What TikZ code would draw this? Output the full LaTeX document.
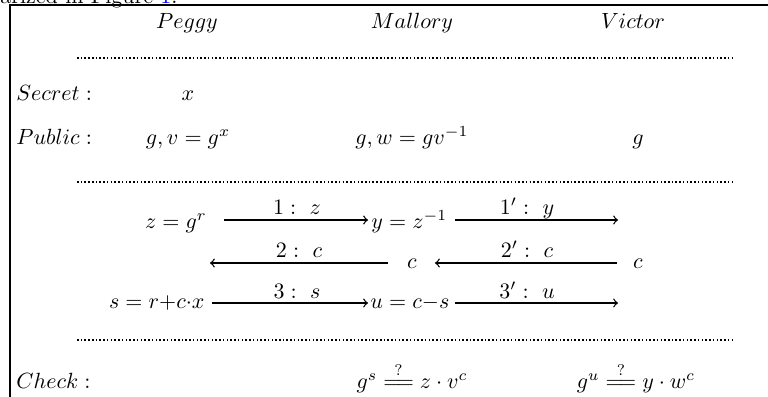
\documentclass[tikz,border=0pt]{standalone}
\usepackage{xcolor}
\begin{document}
\begin{tikzpicture}[x=0.4545pt,y=-0.4545pt,
  lbl/.style={anchor=base,inner sep=0pt},
  lblw/.style={anchor=base west,inner sep=0pt},
  lble/.style={anchor=base east,inner sep=0pt},
  msg/.style={->,line width=0.6pt},
  sep/.style={densely dotted,line width=0.7pt},
  frame/.style={line width=1pt}]
\useasboundingbox (0,0) rectangle (768,396);
\clip (0,0) rectangle (768,396);
% clipped caption text at the top
\node[lblw] (cap) at (0,3) {arized in Figure~\textcolor{blue}{1}.};
% frame
\coordinate (tl) at (10,5);
\coordinate (tr) at (770,5);
\coordinate (bl) at (10,398);
\draw[frame] (tr) -- (tl) -- (bl);
% headers
\node[lbl] (peggy) at (187,28) {$Peggy$};
\node[lbl] (mallory) at (412,28) {$Mallory$};
\node[lbl] (victor) at (633,28) {$Victor$};
% separators
\coordinate (d1l) at (77,58);  \coordinate (d1r) at (733,58);
\coordinate (d2l) at (77,182); \coordinate (d2r) at (733,182);
\coordinate (d3l) at (77,340); \coordinate (d3r) at (733,340);
\draw[sep] (d1l) -- (d1r);
\draw[sep] (d2l) -- (d2r);
\draw[sep] (d3l) -- (d3r);
% secret / public
\node[lblw] (secret) at (16,100) {$Secret:$};
\node[lbl] (secP) at (188,100) {$x$};
\node[lblw] (public) at (16,144) {$Public:$};
\node[lbl] (pubP) at (188,144) {$g, v = g^x$};
\node[lbl] (pubM) at (412,144) {$g, w = gv^{-1}$};
\node[lbl] (pubV) at (638,144) {$g$};
% row 1
\node[lble] (zr) at (207,228) {$z = g^r$};
\node[lblw] (yz) at (371,228) {$y = z^{-1}$};
\coordinate (a1s) at (224,220); \coordinate (a1e) at (368,220);
\coordinate (b1s) at (455,220); \coordinate (b1e) at (618,220);
\draw[msg] (a1s) -- (a1e);
\draw[msg] (b1s) -- (b1e);
\node[lbl] (la1) at (297,214) {$1:\ z$};
\node[lbl] (lb1) at (527,214) {$1':\ y$};
% row 2
\node[lbl] (cM) at (412,268) {$c$};
\node[lbl] (cV) at (638,268) {$c$};
\coordinate (a2s) at (388,263); \coordinate (a2e) at (210,263);
\coordinate (b2s) at (617,263); \coordinate (b2e) at (435,263);
\draw[msg] (a2s) -- (a2e);
\draw[msg] (b2s) -- (b2e);
\node[lbl] (la2) at (299,257) {$2:\ c$};
\node[lbl] (lb2) at (527,257) {$2':\ c$};
% row 3
\node[lble] (srx) at (205,308) {$s = r{+}c{\cdot}x$};
\node[lblw] (ucs) at (370,308) {$u = c{-}s$};
\coordinate (a3s) at (212,303); \coordinate (a3e) at (368,303);
\coordinate (b3s) at (455,303); \coordinate (b3e) at (618,303);
\draw[msg] (a3s) -- (a3e);
\draw[msg] (b3s) -- (b3e);
\node[lbl] (la3) at (297,298) {$3:\ s$};
\node[lbl] (lb3) at (527,298) {$3':\ u$};
% check
\node[lblw] (check) at (16,388) {$Check:$};
\node[lbl] (chkM) at (412,388) {$g^s \stackrel{?}{=\joinrel=} z\cdot v^c$};
\node[lbl] (chkV) at (636,388) {$g^u \stackrel{?}{=\joinrel=} y\cdot w^c$};
\end{tikzpicture}
\end{document}
